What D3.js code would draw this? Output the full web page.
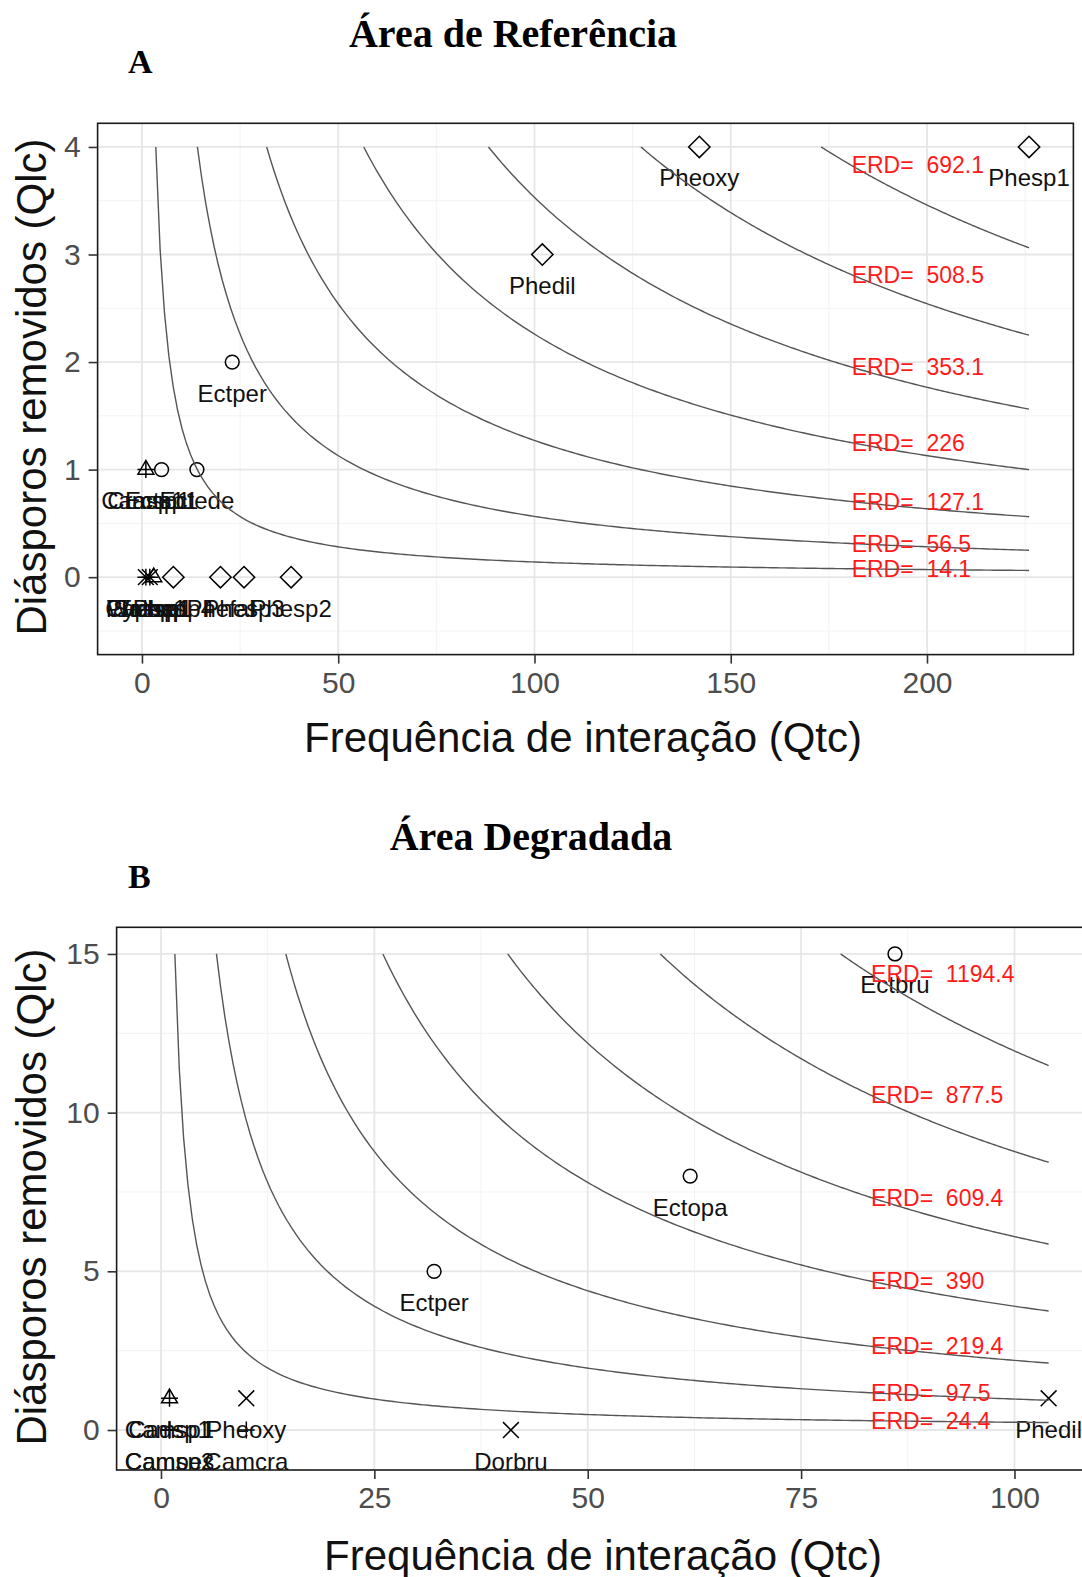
<!DOCTYPE html>
<html>
<head>
<meta charset="utf-8">
<script src="https://cdn.jsdelivr.net/npm/d3@7"></script>
<style>
  body { margin: 0; background: #fff; }
  svg text { font-family: "Liberation Sans", Arial, sans-serif; }
  .title { font-family: "Liberation Serif", "Times New Roman", serif; font-weight: bold; }
</style>
</head>
<body>
<svg id="chart"></svg>
<script>
// Área de Referência (A)
const speciesA = ['Pheoxy', 'Phesp1', 'Phedil', 'Ectper', 'Camsp1', 'Crasp1', 'Ectsp1', 'Ectede',
  'Cyphsp', 'Wassp1', 'Solsp1', 'Trasp1', 'Pachsp', 'Phesp4', 'Phefal', 'Phesp3', 'Phesp2'];
const qtcA = [142, 226, 102, 23, 1, 1, 5, 14, 1, 2, 2, 3, 1, 8, 20, 26, 38];
const qlcA = [4, 4, 3, 2, 1, 1, 1, 1, 0, 0, 0, 0, 0, 0, 0, 0, 0];
const shapeA = ['diamond', 'diamond', 'diamond', 'circle', 'triangle', 'plus', 'circle', 'circle',
  'plus', 'times', 'plus', 'triangle', 'times', 'diamond', 'diamond', 'diamond', 'diamond'];
const erdA = [14.1, 56.5, 127.1, 226, 353.1, 508.5, 692.1];
const xTicksA = [0, 50, 100, 150, 200];
const yTicksA = [0, 1, 2, 3, 4];

// Área Degradada (B)
const speciesB = ['Ectbru', 'Ectopa', 'Ectper', 'Phedil', 'Pheoxy', 'Camsp1', 'Cadsp1', 'Dorbru',
  'Camcra', 'Campes', 'Camsp2'];
const qtcB = [86, 62, 32, 104, 10, 1, 1, 41, 10, 1, 1];
const qlcB = [15, 8, 5, 1, 1, 1, 1, 0, 0, 0, 0];
const shapeB = ['circle', 'circle', 'circle', 'times', 'times', 'triangle', 'plus', 'times',
  'plus', 'plus', 'plus'];
const erdB = [24.4, 97.5, 219.4, 390, 609.4, 877.5, 1194.4];
const xTicksB = [0, 25, 50, 75, 100];
const yTicksB = [0, 5, 10, 15];

const width = 1082;
const height = 1577;

const svg = d3.select('#chart')
  .attr('width', width)
  .attr('height', height)
  .attr('viewBox', `0 0 ${width} ${height}`);

const symbols = {
  circle: d3.symbol(d3.symbolCircle, 150),
  triangle: d3.symbol(d3.symbolTriangle2, 180),
  plus: d3.symbol(d3.symbolPlus, 95),
  times: d3.symbol(d3.symbolTimes, 165),
  diamond: d3.symbol(d3.symbolDiamond2, 290),
};

function minorTicks(ticks, domain) {
  const step = ticks[1] - ticks[0];
  const out = [];
  for (let v = ticks[0] - step / 2; v <= domain[1]; v += step) {
    if (v >= domain[0]) out.push(v);
  }
  return out;
}

function drawPanel(cfg) {
  const g = svg.append('g');
  const x = d3.scaleLinear().domain(cfg.xDomain).range(cfg.xRange);
  const y = d3.scaleLinear().domain(cfg.yDomain).range(cfg.yRange);
  const [left, right] = cfg.xRange;
  const [bottom, top] = cfg.yRange;

  const clipId = `clip-${cfg.id}`;
  g.append('clipPath').attr('id', clipId)
    .append('rect')
    .attr('x', left).attr('y', top)
    .attr('width', right - left).attr('height', bottom - top);

  g.append('text')
    .attr('class', 'title')
    .attr('x', cfg.titleX)
    .attr('y', cfg.titleY)
    .attr('text-anchor', 'middle')
    .attr('font-size', 40)
    .text(cfg.title);

  g.append('text')
    .attr('class', 'title')
    .attr('x', 128)
    .attr('y', cfg.letterY)
    .attr('font-size', 34)
    .text(cfg.letter);

  const plot = g.append('g').attr('clip-path', `url(#${clipId})`);

  // grid
  plot.selectAll('.minor-x')
    .data(minorTicks(cfg.xTicks, cfg.xDomain))
    .join('line')
    .attr('x1', d => x(d)).attr('x2', d => x(d))
    .attr('y1', top).attr('y2', bottom)
    .attr('stroke', '#f2f2f2').attr('stroke-width', 1);
  plot.selectAll('.minor-y')
    .data(minorTicks(cfg.yTicks, cfg.yDomain))
    .join('line')
    .attr('y1', d => y(d)).attr('y2', d => y(d))
    .attr('x1', left).attr('x2', right)
    .attr('stroke', '#f2f2f2').attr('stroke-width', 1);
  plot.selectAll('.major-x')
    .data(cfg.xTicks)
    .join('line')
    .attr('x1', d => x(d)).attr('x2', d => x(d))
    .attr('y1', top).attr('y2', bottom)
    .attr('stroke', '#e6e6e6').attr('stroke-width', 1.8);
  plot.selectAll('.major-y')
    .data(cfg.yTicks)
    .join('line')
    .attr('y1', d => y(d)).attr('y2', d => y(d))
    .attr('x1', left).attr('x2', right)
    .attr('stroke', '#e6e6e6').attr('stroke-width', 1.8);

  const points = cfg.species.map((s, i) => ({
    name: s, qtc: cfg.qtc[i], qlc: cfg.qlc[i], shape: cfg.shape[i],
  }));

  plot.selectAll('.pt')
    .data(points)
    .join('path')
    .attr('class', 'pt')
    .attr('transform', d => `translate(${x(d.qtc)},${y(d.qlc)})`)
    .attr('d', d => symbols[d.shape]())
    .attr('fill', 'none')
    .attr('stroke', '#000')
    .attr('stroke-width', 1.5);

  plot.selectAll('.pt-label')
    .data(points)
    .join('text')
    .attr('class', 'pt-label')
    .attr('x', d => x(d.qtc))
    .attr('y', d => y(d.qlc) + 31)
    .attr('text-anchor', 'middle')
    .attr('dominant-baseline', 'central')
    .attr('font-size', 24)
    .attr('fill', '#111')
    .text(d => d.name);

  // ERD isolines: Qtc * Qlc = ERD
  const xMax = d3.max(cfg.qtc);
  const yMax = d3.max(cfg.qlc);
  const line = d3.line().x(d => x(d[0])).y(d => y(d[1]));
  plot.selectAll('.iso')
    .data(cfg.erd)
    .join('path')
    .attr('class', 'iso')
    .attr('d', e => {
      const x0 = e / yMax;
      const pts = d3.range(0, 201).map(k => {
        const xv = x0 + (xMax - x0) * k / 200;
        return [xv, e / xv];
      });
      return line(pts);
    })
    .attr('fill', 'none')
    .attr('stroke', '#555')
    .attr('stroke-width', 1.4);

  const xLab = 0.8 * xMax;
  plot.selectAll('.erd-label')
    .data(cfg.erd)
    .join('text')
    .attr('class', 'erd-label')
    .attr('x', x(xLab))
    .attr('y', e => y(e / xLab))
    .attr('dominant-baseline', 'central')
    .attr('font-size', 23)
    .attr('fill', '#ff1a1a')
    .style('white-space', 'pre')
    .text(e => `ERD=  ${e}`);

  // border
  g.append('rect')
    .attr('x', left).attr('y', top)
    .attr('width', right - left).attr('height', bottom - top)
    .attr('fill', 'none')
    .attr('stroke', '#1a1a1a')
    .attr('stroke-width', 1.6);

  // axes
  const xAxis = g.append('g')
    .attr('transform', `translate(0,${bottom})`)
    .call(d3.axisBottom(x).tickValues(cfg.xTicks).tickFormat(d3.format('d'))
      .tickSize(9).tickPadding(8));
  const yAxis = g.append('g')
    .attr('transform', `translate(${left},0)`)
    .call(d3.axisLeft(y).tickValues(cfg.yTicks).tickFormat(d3.format('d'))
      .tickSize(9).tickPadding(8));
  [xAxis, yAxis].forEach(a => {
    a.select('.domain').remove();
    a.selectAll('.tick line').attr('stroke', '#333').attr('stroke-width', 1.6);
    a.selectAll('.tick text')
      .attr('font-size', 30)
      .attr('font-family', '"Liberation Sans", Arial, sans-serif')
      .attr('fill', '#4d4d4d');
  });

  g.append('text')
    .attr('x', cfg.xTitleX)
    .attr('y', cfg.xTitleY)
    .attr('text-anchor', 'middle')
    .attr('font-size', 42)
    .attr('fill', '#111')
    .text('Frequência de interação (Qtc)');

  g.append('text')
    .attr('transform', `translate(46,${cfg.yTitleY}) rotate(-90)`)
    .attr('text-anchor', 'middle')
    .attr('font-size', 42)
    .attr('fill', '#111')
    .text('Diásporos removidos (Qlc)');
}

drawPanel({
  id: 'a',
  title: 'Área de Referência',
  titleX: 513, titleY: 47,
  letter: 'A', letterY: 73,
  species: speciesA, qtc: qtcA, qlc: qlcA, shape: shapeA, erd: erdA,
  xTicks: xTicksA, yTicks: yTicksA,
  xDomain: [-11.3, 237.3], xRange: [97.6, 1073.4],
  yDomain: [-0.72, 4.22], yRange: [654.6, 123.3],
  xTitleX: 583, xTitleY: 752,
  yTitleY: 387,
});

drawPanel({
  id: 'b',
  title: 'Área Degradada',
  titleX: 531, titleY: 850,
  letter: 'B', letterY: 888,
  species: speciesB, qtc: qtcB, qlc: qlcB, shape: shapeB, erd: erdB,
  xTicks: xTicksB, yTicks: yTicksB,
  xDomain: [-5.2, 109.2], xRange: [116.6, 1093],
  yDomain: [-1.26, 15.84], yRange: [1470, 927.3],
  xTitleX: 603, xTitleY: 1570,
  yTitleY: 1197,
});
</script>
</body>
</html>
